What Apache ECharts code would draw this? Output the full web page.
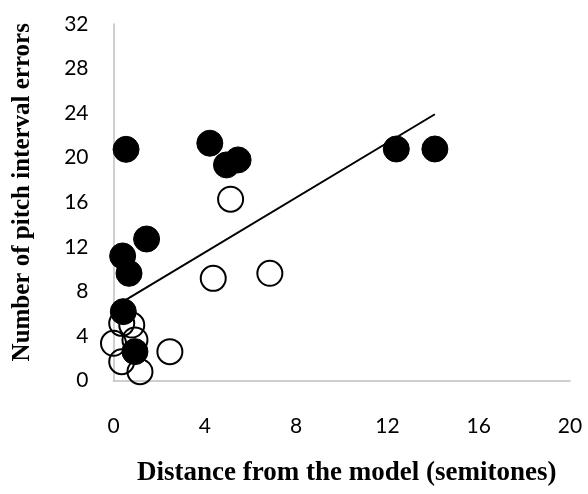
<!DOCTYPE html>
<html>
<head>
<meta charset="utf-8">
<script src="https://cdn.jsdelivr.net/npm/echarts@6/dist/echarts.min.js"></script>
<style>html,body{margin:0;padding:0;background:#fff}#c{width:588px;height:494px}</style>
</head>
<body>
<div id="c"></div>
<script>
var filledPoints = [[0.55,20.75],[4.22,21.3],[4.95,19.35],[5.46,19.8],[1.45,12.7],[0.40,11.18],[0.68,9.62],[0.43,6.18],[0.94,2.59],[12.39,20.78],[14.08,20.78]];
var openPoints = [[5.13,16.27],[4.37,9.17],[6.85,9.62],[2.47,2.59],[1.16,0.79],[0.36,1.69],[0.0,3.34],[0.94,3.64],[0.36,5.13],[0.80,4.98]];
var trendLine = [[0.43,7.1],[14.08,23.9]];
var xTicks = [0,4,8,12,16,20];
var yTicks = [0,4,8,12,16,20,24,28,32];

var chart = echarts.init(document.getElementById('c'), null, {renderer:'canvas'});
var labelStyle = {color:'#000', fontFamily:'Lato', fontSize:21};
chart.setOption({
  animation:false,
  grid:{left:113.5, right:18, top:24, bottom:113.5},
  xAxis:{type:'value', min:xTicks[0], max:xTicks[xTicks.length-1], interval:4,
    axisLine:{show:true, lineStyle:{color:'#bfbfbf', width:1.5}},
    axisTick:{show:false}, splitLine:{show:false},
    axisLabel:Object.assign({margin:35}, labelStyle),
    name:'Distance from the model (semitones)', nameLocation:'middle', nameGap:79,
    nameTextStyle:{fontFamily:'Liberation Serif', fontWeight:'bold', fontSize:27, color:'#000', padding:[0,0,0,10]}},
  yAxis:{type:'value', min:yTicks[0], max:yTicks[yTicks.length-1], interval:4,
    axisLine:{show:true, lineStyle:{color:'#bfbfbf', width:1.5}},
    axisTick:{show:false}, splitLine:{show:false},
    axisLabel:Object.assign({margin:25}, labelStyle),
    name:'Number of pitch interval errors', nameLocation:'middle', nameGap:78,
    nameTextStyle:{fontFamily:'Liberation Serif', fontWeight:'bold', fontSize:25, color:'#000', padding:[0,0,0,20]}},
  series:[
    {type:'scatter', data:filledPoints, symbol:'circle', symbolSize:26, z:2,
      itemStyle:{color:'#000', borderColor:'#000', borderWidth:1, opacity:1}},
    {type:'line', data:trendLine, symbol:'none', z:3,
      lineStyle:{color:'#000', width:2}},
    {type:'scatter', data:openPoints, symbol:'circle', symbolSize:25, z:4,
      itemStyle:{color:'rgba(255,255,255,0)', borderColor:'#000', borderWidth:2, opacity:1}}
  ]
});
</script>
</body>
</html>
